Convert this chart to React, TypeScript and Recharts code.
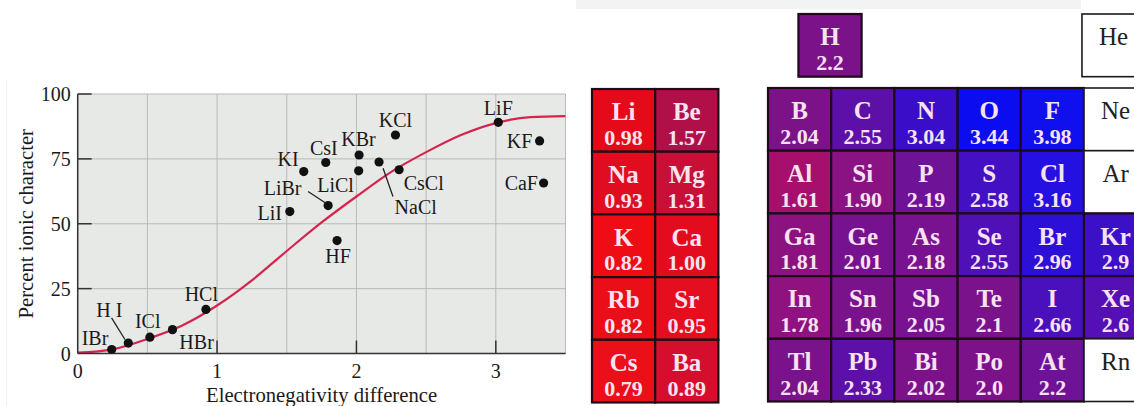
import React from 'react';
import {
  ComposedChart, ScatterChart, Scatter, Line, XAxis, YAxis, CartesianGrid, ReferenceLine,
} from 'recharts';

// ---------- Left chart data ----------
const compoundNames = ['IBr', 'HI', 'ICl', 'HBr', 'HCl', 'LiI', 'KI', 'CsI', 'LiBr', 'KBr', 'LiCl', 'NaCl', 'CsCl', 'KCl', 'HF', 'LiF', 'KF', 'CaF'];
const compoundDiff = [0.244, 0.363, 0.518, 0.68, 0.92, 1.522, 1.622, 1.78, 1.797, 2.019, 2.016, 2.162, 2.306, 2.28, 1.861, 3.018, 3.314, 3.343];
const compoundIonic = [1.5, 4.0, 6.3, 9.2, 17.0, 54.7, 70.1, 73.6, 57.0, 76.5, 70.4, 73.8, 70.8, 84.2, 43.5, 89.1, 81.9, 65.7];

const labelTexts = ['IBr', 'H I', 'ICl', 'HBr', 'HCl', 'LiI', 'KI', 'CsI', 'LiBr', 'KBr', 'LiCl', 'NaCl', 'CsCl', 'KCl', 'HF', 'LiF', 'KF', 'CaF'];
const labelX = [0.124, 0.227, 0.502, 0.853, 0.887, 1.378, 1.51, 1.766, 1.47, 2.015, 1.85, 2.425, 2.483, 2.28, 1.868, 3.018, 3.171, 3.183];
const labelY = [6.0, 16.7, 12.2, 4.1, 22.7, 54.1, 74.9, 79.1, 63.5, 82.6, 64.6, 56.3, 65.7, 90.0, 37.4, 94.5, 81.9, 65.4];

const curveX = [0, 0.25, 0.5, 0.75, 1.0, 1.25, 1.5, 1.75, 2.0, 2.25, 2.5, 2.75, 3.0, 3.25, 3.5];
const curveY = [0.3, 1.6, 5.6, 10.8, 18.5, 28.2, 39.5, 50.5, 60.5, 70.0, 77.6, 84.2, 88.8, 91.1, 91.5];

const leaderLines = [
  [[0.243, 13.7], [0.339, 5.4]],
  [[1.653, 62.4], [1.773, 58.2]],
  [[2.191, 71.4], [2.262, 60.5]],
];

const xTicks = [0, 0.5, 1, 1.5, 2, 2.5, 3, 3.5];
const yTicks = [0, 25, 50, 75, 100];

const compounds = compoundNames.map((n, i) => ({ name: n, x: compoundDiff[i], y: compoundIonic[i] }));
const labels = labelTexts.map((n, i) => ({ name: n, x: labelX[i], y: labelY[i] }));
const curve = curveX.map((x, i) => ({ x, y: curveY[i] }));

// ---------- Periodic table data ----------
const sSymbols = ['Li', 'Be', 'Na', 'Mg', 'K', 'Ca', 'Rb', 'Sr', 'Cs', 'Ba'];
const sGroups = [1, 2, 1, 2, 1, 2, 1, 2, 1, 2];
const sPeriods = [2, 2, 3, 3, 4, 4, 5, 5, 6, 6];
const sEN = ['0.98', '1.57', '0.93', '1.31', '0.82', '1.00', '0.82', '0.95', '0.79', '0.89'];

const pSymbols = ['B', 'C', 'N', 'O', 'F', 'Ne', 'Al', 'Si', 'P', 'S', 'Cl', 'Ar', 'Ga', 'Ge', 'As', 'Se', 'Br', 'Kr', 'In', 'Sn', 'Sb', 'Te', 'I', 'Xe', 'Tl', 'Pb', 'Bi', 'Po', 'At', 'Rn'];
const pGroups = [13, 14, 15, 16, 17, 18, 13, 14, 15, 16, 17, 18, 13, 14, 15, 16, 17, 18, 13, 14, 15, 16, 17, 18, 13, 14, 15, 16, 17, 18];
const pPeriods = [2, 2, 2, 2, 2, 2, 3, 3, 3, 3, 3, 3, 4, 4, 4, 4, 4, 4, 5, 5, 5, 5, 5, 5, 6, 6, 6, 6, 6, 6];
const pEN = ['2.04', '2.55', '3.04', '3.44', '3.98', '', '1.61', '1.90', '2.19', '2.58', '3.16', '', '1.81', '2.01', '2.18', '2.55', '2.96', '2.9', '1.78', '1.96', '2.05', '2.1', '2.66', '2.6', '2.04', '2.33', '2.02', '2.0', '2.2', ''];

const topSymbols = ['H', 'He'];
const topGroups = [1, 18];
const topPeriods = [1, 1];
const topEN = ['2.2', ''];

const cellFill: Record<string, string> = {
  Li: '#e50a1a', Be: '#b00f48', Na: '#e00c20', Mg: '#c80f35', K: '#ef0c14', Ca: '#e30c1e',
  Rb: '#ea0e18', Sr: '#e40e1e', Cs: '#ea0f18', Ba: '#d40e2c', H: '#7c128a',
  B: '#7c1288', C: '#5c10a8', N: '#3a0ec8', O: '#0c0cf0', F: '#1010ee',
  Al: '#a60f6c', Si: '#8a1282', P: '#6e1298', S: '#4410c4', Cl: '#2410e0',
  Ga: '#8c1280', Ge: '#761290', As: '#781290', Se: '#5010b8', Br: '#2c10d8', Kr: '#3c10c6',
  In: '#901280', Sn: '#7a128c', Sb: '#781290', Te: '#7a128c', I: '#4a10bc', Xe: '#5410b4',
  Tl: '#7a128c', Pb: '#5c10a8', Bi: '#7c128a', Po: '#7c128a', At: '#6e1298',
};

const mkCells = (sym: string[], g: number[], p: number[], en: string[]) =>
  sym.map((s, i) => ({ sym: s, x: g[i], y: p[i], en: en[i] }));

const sCells = mkCells(sSymbols, sGroups, sPeriods, sEN);
const pCells = mkCells(pSymbols, pGroups, pPeriods, pEN);
const topCells = mkCells(topSymbols, topGroups, topPeriods, topEN);

const SERIF = "'Liberation Serif', 'Times New Roman', serif";
const CELL_W = 63.2;
const CELL_H = 62.7;

const ElementCell = (props: any) => {
  const { cx, cy, payload } = props;
  const fill = cellFill[payload.sym];
  const colored = !!fill;
  return (
    <g>
      <rect x={cx - CELL_W / 2} y={cy - CELL_H / 2} width={CELL_W} height={CELL_H}
        fill={colored ? fill : '#ffffff'} stroke={colored ? '#1e0a18' : '#1a1a1a'} strokeWidth={colored ? 2.2 : 1.6} />
      <text x={cx} y={cy} textAnchor="middle" fontFamily={SERIF} fontSize={25}
        fontWeight={colored ? 700 : 400} fill={colored ? '#f8e2f2' : '#222222'}>{payload.sym}</text>
      {payload.en ? (
        <text x={cx} y={cy + 24.5} textAnchor="middle" fontFamily={SERIF} fontSize={22}
          fontWeight={700} fill="#f8e2f2">{payload.en}</text>
      ) : null}
    </g>
  );
};

const XTick = (props: any) => {
  const { x, y, payload } = props;
  const v = payload.value;
  if (!Number.isInteger(v)) return <g />;
  const axisY = y - 10;
  return (
    <g>
      {v !== 0 && <line x1={x} x2={x} y1={axisY} y2={axisY - 13} stroke="#333" strokeWidth={1.5} />}
      <text x={x} y={y} dy="0.71em" textAnchor="middle" fontFamily={SERIF} fontSize={20} fill="#1a1a1a">{v}</text>
    </g>
  );
};

const YTick = (props: any) => {
  const { x, y, payload } = props;
  const v = payload.value;
  const axisX = x + 7;
  return (
    <g>
      {v !== 0 && <line x1={axisX} x2={axisX + 14} y1={y} y2={y} stroke="#333" strokeWidth={1.5} />}
      <text x={x} y={y} dy="0.355em" textAnchor="end" fontFamily={SERIF} fontSize={20} fill="#1a1a1a">{v}</text>
    </g>
  );
};

const Dot = (props: any) => <circle cx={props.cx} cy={props.cy} r={4.6} fill="#111" />;
const LabelText = (props: any) => (
  <text x={props.cx} y={props.cy + 6.6} textAnchor="middle" fontFamily={SERIF} fontSize={20} fill="#1a1a1a">
    {props.payload.name}
  </text>
);

export default function App() {
  return (
    <div style={{ position: 'absolute', left: 0, top: 0, width: 1134, height: 406, overflow: 'hidden', background: '#fff' }}>
      <div style={{ position: 'absolute', left: 576, top: 0, width: 505, height: 9, background: '#f2f3f3' }} />
      <div style={{ position: 'absolute', left: 6, top: 80, width: 1, height: 326, background: '#f0f0f0' }} />

      <div style={{ position: 'absolute', left: 0, top: 0 }}>
        <ComposedChart width={580} height={406} margin={{ top: 94, right: 14.5, bottom: 12.5, left: 0 }}>
          <CartesianGrid fill="#e7e9e6" stroke="#b8bab7" strokeWidth={1} />
          <XAxis type="number" dataKey="x" domain={[0, 3.5]} ticks={xTicks} interval={0} allowDataOverflow
            height={40} tickSize={0} tickMargin={10} tickLine={false} tick={<XTick />}
            axisLine={{ stroke: '#333', strokeWidth: 1.5 }}
            label={{
              content: (p: any) => {
                const vb = p.viewBox;
                return (
                  <text x={vb.x + vb.width / 2} y={vb.y + 48.5} textAnchor="middle" fontFamily={SERIF} fontSize={20.7} fill="#1a1a1a">
                    Electronegativity difference
                  </text>
                );
              },
            }} />
          <YAxis type="number" dataKey="y" domain={[0, 100]} ticks={yTicks} interval={0} allowDataOverflow
            width={77.7} tickSize={0} tickMargin={7} tickLine={false} tick={<YTick />}
            axisLine={{ stroke: '#333', strokeWidth: 1.5 }}
            label={{
              content: (p: any) => {
                const vb = p.viewBox;
                const cy = vb.y + vb.height / 2;
                return (
                  <text x={32.5} y={cy} transform={`rotate(-90, 32.5, ${cy})`} textAnchor="middle" fontFamily={SERIF} fontSize={20.7} fill="#1a1a1a">
                    Percent ionic character
                  </text>
                );
              },
            }} />
          <Line data={curve} dataKey="y" type="monotone" stroke="#d6244f" strokeWidth={2.2} dot={false} activeDot={false} isAnimationActive={false} />
          {leaderLines.map((seg, i) => (
            <ReferenceLine key={i} segment={[{ x: seg[0][0], y: seg[0][1] }, { x: seg[1][0], y: seg[1][1] }]} stroke="#222" strokeWidth={1.3} />
          ))}
          <Scatter data={compounds} dataKey="y" shape={<Dot />} isAnimationActive={false} />
          <Scatter data={labels} dataKey="y" shape={<LabelText />} isAnimationActive={false} />
        </ComposedChart>
      </div>

      {/* s-block */}
      <div style={{ position: 'absolute', left: 591.7 - 4, top: 89 - 4 }}>
        <ScatterChart width={2 * CELL_W + 8} height={5 * CELL_H + 8} margin={{ top: 4, right: 4, bottom: 4, left: 4 }}>
          <XAxis type="number" dataKey="x" domain={[0.5, 2.5]} hide />
          <YAxis type="number" dataKey="y" domain={[1.5, 6.5]} reversed hide />
          <Scatter data={sCells} shape={<ElementCell />} isAnimationActive={false} />
        </ScatterChart>
      </div>

      {/* p-block */}
      <div style={{ position: 'absolute', left: 768.3 - 4, top: 87.5 - 4 }}>
        <ScatterChart width={6 * CELL_W + 8} height={5 * CELL_H + 8} margin={{ top: 4, right: 4, bottom: 4, left: 4 }}>
          <XAxis type="number" dataKey="x" domain={[12.5, 18.5]} hide />
          <YAxis type="number" dataKey="y" domain={[1.5, 6.5]} reversed hide />
          <Scatter data={pCells} shape={<ElementCell />} isAnimationActive={false} />
        </ScatterChart>
      </div>

      {/* period 1 */}
      <div style={{ position: 'absolute', left: 830.3 - 40, top: 14.3 - 4 }}>
        <ScatterChart width={283.6 + 80} height={CELL_H + 8} margin={{ top: 4, right: 40, bottom: 4, left: 40 }}>
          <XAxis type="number" dataKey="x" domain={[1, 18]} hide />
          <YAxis type="number" dataKey="y" domain={[0.5, 1.5]} hide />
          <Scatter data={topCells} shape={<ElementCell />} isAnimationActive={false} />
        </ScatterChart>
      </div>
    </div>
  );
}
